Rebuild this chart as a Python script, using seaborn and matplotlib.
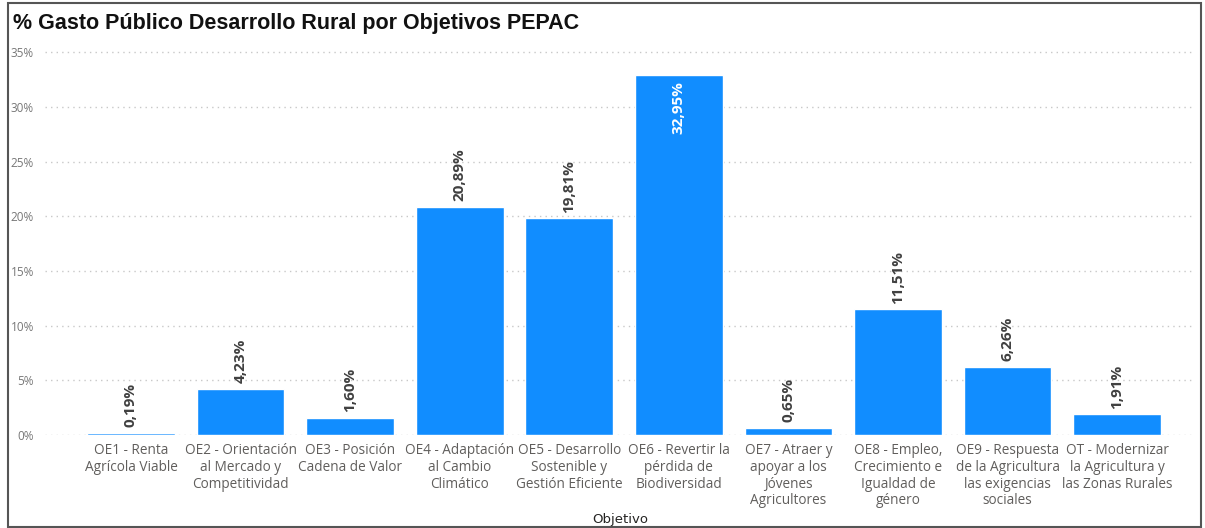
import pandas as pd
import matplotlib.pyplot as plt
import seaborn as sns
from matplotlib.patches import Rectangle


# datos del grafico
objetivos = ['OE1 - Renta\nAgrícola Viable',
             'OE2 - Orientación\nal Mercado y\nCompetitividad',
             'OE3 - Posición\nCadena de Valor',
             'OE4 - Adaptación\nal Cambio\nClimático',
             'OE5 - Desarrollo\nSostenible y\nGestión Eficiente',
             'OE6 - Revertir la\npérdida de\nBiodiversidad',
             'OE7 - Atraer y\napoyar a los\nJóvenes\nAgricultores',
             'OE8 - Empleo,\nCrecimiento e\nIgualdad de\ngénero',
             'OE9 - Respuesta\nde la Agricultura\nlas exigencias\nsociales',
             'OT - Modernizar\nla Agricultura y\nlas Zonas Rurales']
porcentajes = [0.19, 4.23, 1.60, 20.89, 19.81, 32.95, 0.65, 11.51, 6.26, 1.91]
yticks = [0, 5, 10, 15, 20, 25, 30, 35]

df = pd.DataFrame({'Objetivo': objetivos, 'Gasto': porcentajes})

sns.set_style('white')
plt.rcParams['font.family'] = ['Open Sans', 'DejaVu Sans']

fig = plt.figure(figsize=(12.05, 5.28), dpi=100)
ax = fig.add_axes([0.0373, 0.176, 0.9544, 0.746])

sns.barplot(data=df, x='Objetivo', y='Gasto', color='#118DFF', saturation=1,
            width=0.8, ax=ax, zorder=3)

ax.set_xlim(-0.785, 9.71)
ax.set_ylim(0, 36)
ax.set_yticks(yticks)
ax.set_yticklabels([f'{t}%' for t in yticks], fontsize=8.5, color='#777777')
ax.tick_params(axis='y', length=0, pad=8)
ax.tick_params(axis='x', length=0, pad=6)
for lbl in ax.get_xticklabels():
    lbl.set_fontsize(9.8)
    lbl.set_color('#605E5C')
    lbl.set_linespacing(1.15)
ax.grid(axis='y', linestyle=(0, (1, 3)), color='#C8C8C8', linewidth=1, zorder=0)
for s in ax.spines.values():
    s.set_visible(False)

ax.set_xlabel('Objetivo', fontsize=9.5, color='#252423', labelpad=3,
              family=['Liberation Sans Narrow', 'DejaVu Sans'])
ax.set_ylabel('')

# etiquetas de datos
for i, v in enumerate(porcentajes):
    txt = f'{v:.2f}%'.replace('.', ',')
    if v > 30:
        ax.annotate(txt, (i, v), xytext=(0, -5), textcoords='offset points',
                    rotation=90, ha='center', va='top', fontsize=11,
                    fontweight='bold', color='white', zorder=4)
    else:
        ax.annotate(txt, (i, v), xytext=(0, 4), textcoords='offset points',
                    rotation=90, ha='center', va='bottom', fontsize=11,
                    fontweight='bold', color='#404040', zorder=4)

fig.text(0.011, 0.955, '% Gasto Público Desarrollo Rural por Objetivos PEPAC',
         fontsize=15.5, fontweight='bold', color='#111111', va='center',
         family=['Liberation Sans', 'DejaVu Sans'])

# marco
fig.patches.append(Rectangle((8 / 1205, 1 / 528), 1193 / 1205, 524 / 528,
                             transform=fig.transFigure, fill=False,
                             edgecolor='#555555', linewidth=1.5))

fig.savefig('out.png', dpi=100)
